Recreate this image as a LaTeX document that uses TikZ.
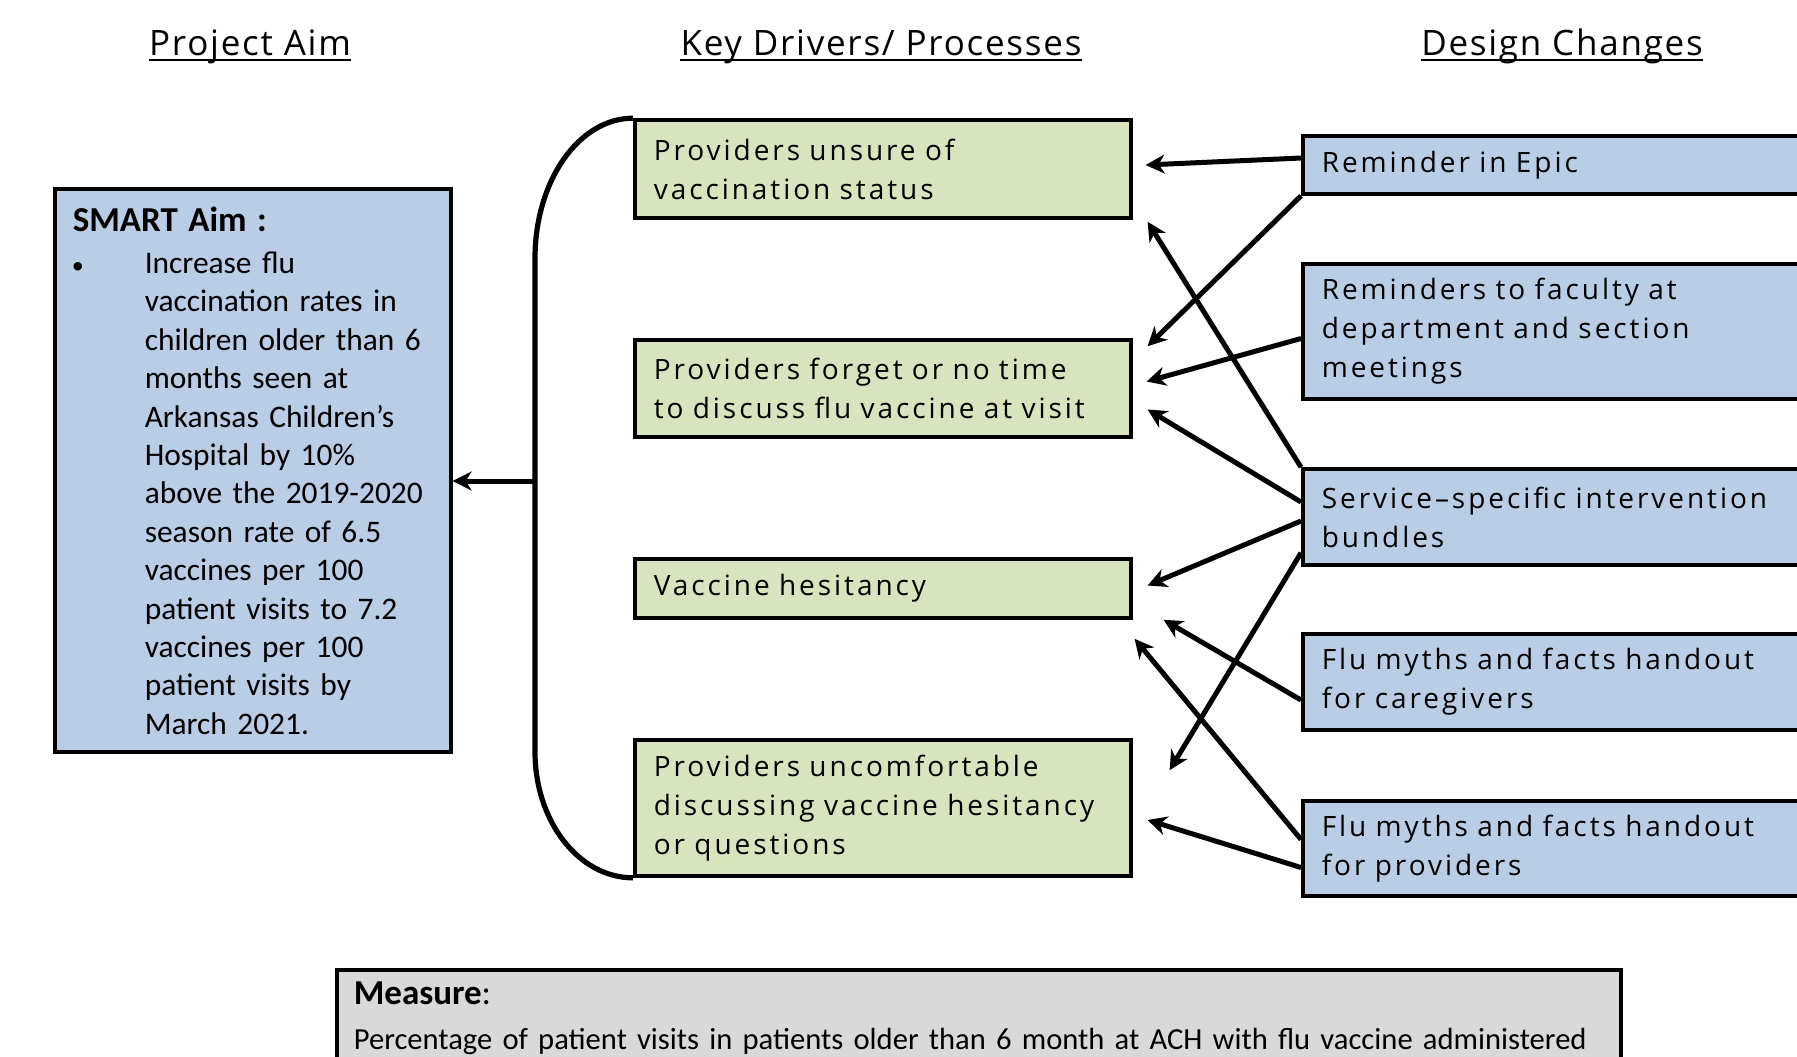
\documentclass[tikz,border=0pt]{standalone}
\usepackage{fontspec}
\setmainfont{Carlito}
\newfontfamily\drvfont[LetterSpace=10.5]{Open Sans}
\newfontfamily\headfont[LetterSpace=5]{Open Sans}
\usetikzlibrary{arrows.meta}
\definecolor{aimblue}{HTML}{B9CDE5}
\definecolor{drivergreen}{HTML}{D7E4BD}
\definecolor{measuregrey}{HTML}{D9D9D9}
\tikzset{
  box/.style={draw=black, line width=1.8pt, rectangle, inner xsep=9.5pt, inner ysep=0pt, align=left, anchor=west},
  driver/.style={box, fill=drivergreen, minimum width=248pt, text width=229pt, font=\drvfont\fontsize{14}{19.5}\selectfont},
  change/.style={box, fill=aimblue, minimum width=272pt, text width=253pt, font=\drvfont\fontsize{14}{19.5}\selectfont},
  aimbox/.style={box, fill=aimblue, minimum width=198pt, minimum height=281.5pt, inner xsep=9pt, text width=180pt, font=\fontsize{15.7}{19.2}\selectfont},
  measurebox/.style={box, anchor=north west, fill=measuregrey, minimum width=642pt, text width=625pt, inner xsep=8.5pt, inner ysep=6pt, font=\fontsize{15.3}{21.5}\selectfont},
  heading/.style={inner sep=0pt, anchor=base, font=\headfont\fontsize{17.5}{21}\selectfont},
  underl/.style={line width=1pt},
  bracket/.style={line width=2.6pt},
  link/.style={line width=2.5pt, -{Stealth[length=9.5pt, width=9.5pt, inset=3pt]}},
}
\begin{document}
\begin{tikzpicture}[x=0.5pt,y=-0.5pt]
  \useasboundingbox (0,0) rectangle (1797,1056);
  \clip (0,0) rectangle (1797,1056);
  \fill[white] (0,0) rectangle (1797,1056);

  % column headings
  \node[heading] (hAim) at (250,55) {Project Aim};
  \node[heading] (hDrivers) at (881,55) {Key Drivers/ Processes};
  \node[heading] (hChanges) at (1562,55) {Design Changes};
  \foreach \h in {hAim,hDrivers,hChanges}
    \draw[underl] ([yshift=-2.5pt]\h.base west) -- ([yshift=-2.5pt]\h.base east);

  % aim
  \node[aimbox] (aim) at (53,470.5) {{\fontsize{17.5}{19.2}\selectfont\textbf{SMART Aim :}}\\[2pt]%
    \makebox[36pt][l]{\hspace{-0.5pt}{\fontsize{12}{12}\selectfont\textbullet}}\parbox[t]{144pt}{Increase flu\\
    vaccination rates in\\
    children older than 6\\
    months seen at\\
    Arkansas Children’s\\
    Hospital by 10\%\\
    above the 2019-2020\\
    season rate of 6.5\\
    vaccines per 100\\
    patient visits to 7.2\\
    vaccines per 100\\
    patient visits by\\
    March 2021.}};

  % key drivers
  \node[driver, minimum height=49pt] (d1) at (633,169) {Providers unsure of\\vaccination status};
  \node[driver, minimum height=48.5pt] (d2) at (633,388.5) {Providers forget or no time\\to discuss flu vaccine at visit};
  \node[driver, minimum height=29.5pt] (d3) at (633,588.5) {Vaccine hesitancy};
  \node[driver, minimum height=68pt] (d4) at (633,808) {Providers uncomfortable\\discussing vaccine hesitancy\\or questions};

  % design changes
  \node[change, minimum height=29pt] (c1) at (1301,165) {Reminder in Epic};
  \node[change, minimum height=67.5pt] (c2) at (1301,331.5) {Reminders to faculty at\\department and section\\meetings};
  \node[change, minimum height=48pt] (c3) at (1301,517) {Service–specific intervention\\bundles};
  \node[change, minimum height=48pt] (c4) at (1301,682) {Flu myths and facts handout\\for caregivers};
  \node[change, minimum height=47.5pt] (c5) at (1301,848.5) {Flu myths and facts handout\\for providers};

  % measure
  \node[measurebox] (measure) at (335,968) {{\fontsize{17.5}{21.5}\selectfont\textbf{Measure}:}\\[1pt]\mbox{Percentage of patient visits in patients older than 6 month at ACH with flu vaccine administered}};

  % bracket round the drivers
  \draw[bracket] (d1.north west) arc[start angle=90, end angle=180, x radius=49pt, y radius=70pt]
    -- ([xshift=-49pt,yshift=63pt]d4.south west) arc[start angle=180, end angle=270, x radius=49pt, y radius=63pt];
  \coordinate (brk) at (535,481);
  \draw[link] (brk) -- (brk -| aim.east);

  % changes to drivers
  \draw[link] ([yshift=3.5pt]c1.west) -- ([xshift=6.5pt,yshift=2pt]d1.east);
  \draw[link] (c1.south west) -- ([xshift=7.5pt,yshift=-4pt]d2.north east);
  \draw[link] ([yshift=-3.5pt]c2.west) -- ([xshift=7pt,yshift=3.5pt]d2.east);
  \draw[link] (c3.north west) -- ([xshift=7.5pt,yshift=-1pt]d1.south east);
  \draw[link] ([yshift=7.5pt]c3.west) -- ([xshift=7.5pt,yshift=-10.5pt]d2.east);
  \draw[link] ([yshift=-2pt]c3.west) -- ([xshift=7.5pt,yshift=1.5pt]d3.east);
  \draw[link] ([yshift=7pt]c3.south west) -- ([xshift=18.5pt,yshift=-16pt]d4.north east);
  \draw[link] ([yshift=-9pt]c4.west) -- ([xshift=15.5pt]d3.south east);
  \draw[link] ([yshift=4.5pt]c5.west) -- ([xshift=1pt,yshift=-9.5pt]d3.south east);
  \draw[link] ([yshift=-9.5pt]c5.west) -- ([xshift=7.5pt,yshift=-6pt]d4.east);
\end{tikzpicture}
\end{document}
